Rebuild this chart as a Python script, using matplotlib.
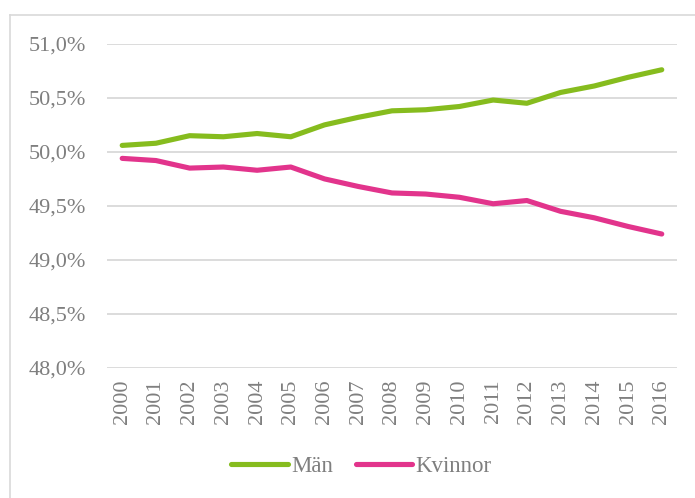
import matplotlib.pyplot as plt
from matplotlib.lines import Line2D
from matplotlib.ticker import FuncFormatter

years = [str(y) for y in range(2000, 2017)]
man = [50.06, 50.08, 50.15, 50.14, 50.17, 50.14, 50.25, 50.32, 50.38, 50.39,
       50.42, 50.48, 50.45, 50.55, 50.61, 50.69, 50.76]
kvinnor = [49.94, 49.92, 49.85, 49.86, 49.83, 49.86, 49.75, 49.68, 49.62, 49.61,
           49.58, 49.52, 49.55, 49.45, 49.39, 49.31, 49.24]
y_ticks = [48.0, 48.5, 49.0, 49.5, 50.0, 50.5, 51.0]

plt.rcParams['font.family'] = ['Liberation Serif', 'DejaVu Serif']
text_col = '#7f7f7f'
grid_col = '#d9d9d9'

fig = plt.figure(figsize=(6.95, 4.98), dpi=100)
ax = fig.add_axes([0.154, 0.261, 0.82, 0.651])

x = range(len(years))
ax.plot(x, man, color='#86BC1E', lw=3.7, solid_capstyle='round', label='Män')
ax.plot(x, kvinnor, color='#E2348C', lw=3.7, solid_capstyle='round', label='Kvinnor')

ax.set_ylim(48.0, 51.0)
ax.set_xlim(-0.45, len(years) - 0.55)
ax.set_yticks(y_ticks)
ax.yaxis.set_major_formatter(FuncFormatter(lambda v, p: f'{v:.1f}%'.replace('.', ',')))
ax.set_xticks(list(x))
ax.set_xticklabels(years, rotation=90)
ax.tick_params(length=0, labelsize=16, colors=text_col)
ax.tick_params(axis='y', pad=15)
ax.tick_params(axis='x', pad=8)
ax.grid(axis='y', color=grid_col, lw=1.3)
ax.set_axisbelow(True)
for s in ax.spines.values():
    s.set_visible(False)

fig.legend(handles=ax.get_lines(), loc='center', bbox_to_anchor=(0.52, 1 - 466 / 498),
           ncol=2, frameon=False, fontsize=16.5, labelcolor=text_col,
           handlelength=2.45, handletextpad=0.15, columnspacing=1.0)

# ram runt diagrammet
fig.add_artist(Line2D([10 / 695, 10 / 695], [0, 1 - 15 / 498], transform=fig.transFigure,
                      color=grid_col, lw=1.2))
fig.add_artist(Line2D([10 / 695, 1], [1 - 15 / 498, 1 - 15 / 498], transform=fig.transFigure,
                      color=grid_col, lw=1.2))

fig.savefig('out.png', dpi=100)
